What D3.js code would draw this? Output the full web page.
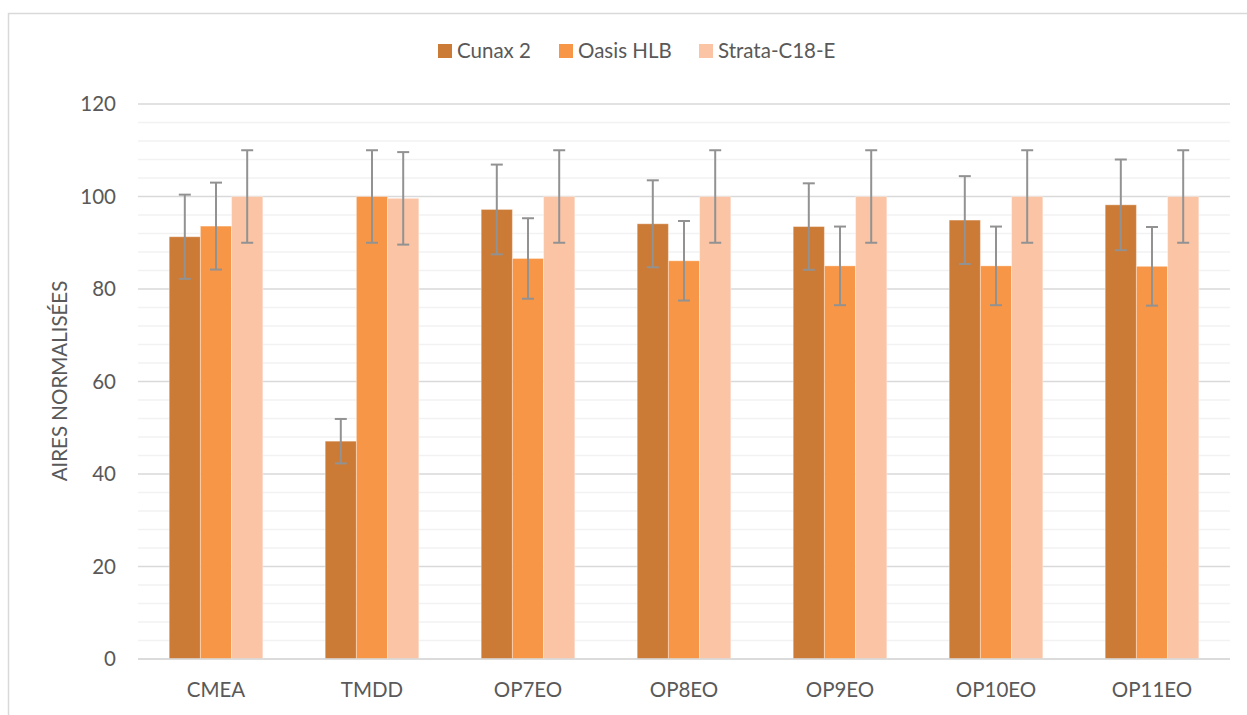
<!DOCTYPE html>
<html><head><meta charset="utf-8">
<script src="https://cdn.jsdelivr.net/npm/d3@7"></script>
<style>body{margin:0;background:#fff}svg{display:block}text{font-family:Lato,"Open Sans",sans-serif;fill:#595959}</style>
</head><body><svg id="c" width="1247" height="715"></svg>
<script>
const categories = ["CMEA","TMDD","OP7EO","OP8EO","OP9EO","OP10EO","OP11EO"];
const seriesNames = ["Cunax 2","Oasis HLB","Strata-C18-E"];
const seriesColors = ["#CC7B37","#F79646","#FAC4A5"];
const cunax = [91.3,47.1,97.2,94.1,93.5,94.9,98.2];
const cunaxErr = [9.1,4.8,9.7,9.4,9.35,9.5,9.8];
const oasis = [93.6,100,86.6,86.1,85.0,85.0,84.9];
const oasisErr = [9.4,10,8.7,8.6,8.5,8.5,8.5];
const strata = [100,99.6,100,100,100,100,100];
const strataErr = [10,10,10,10,10,10,10];
const yTicks = [0,20,40,60,80,100,120];
const yTitle = "AIRES NORMALISÉES";

const values = [cunax, oasis, strata];
const errs = [cunaxErr, oasisErr, strataErr];
const FS = 20.5;

const svg = d3.select("#c");
const L=138,R=1230,T=104,B=659;
svg.append("rect").attr("x",8.5).attr("y",13.5).attr("width",1250).attr("height",720)
  .attr("fill","none").attr("stroke","#d9d9d9").attr("stroke-width",1.5);

const x0 = d3.scaleBand().domain(categories).range([L,R]).paddingInner(0.4).paddingOuter(0.2);
const x1 = d3.scaleBand().domain(seriesNames).range([0,x0.bandwidth()]);
const y = d3.scaleLinear().domain([0,120]).range([B,T]);

// minor grid
svg.append("g").selectAll("line").data(d3.range(4,120,4).filter(v=>v%20!==0)).join("line")
  .attr("x1",L).attr("x2",R).attr("y1",d=>y(d)).attr("y2",d=>y(d))
  .attr("stroke","#f2f2f2").attr("stroke-width",1.5);
// major grid
svg.append("g").selectAll("line").data(yTicks).join("line")
  .attr("x1",L).attr("x2",R).attr("y1",d=>y(d)).attr("y2",d=>y(d))
  .attr("stroke","#d9d9d9").attr("stroke-width",1.5);

const yAxis = svg.append("g").attr("transform",`translate(${L},0)`)
  .call(d3.axisLeft(y).tickValues(yTicks).tickSize(0).tickPadding(22));
yAxis.select(".domain").remove();
yAxis.selectAll("text").attr("font-size",FS).style("fill","#595959").style("font-family","Lato,'Open Sans',sans-serif");

const xAxis = svg.append("g").attr("transform",`translate(0,${B})`)
  .call(d3.axisBottom(x0).tickSize(0).tickPadding(23));
xAxis.select(".domain").remove();
xAxis.selectAll("text").attr("font-size",FS).style("fill","#595959").style("font-family","Lato,'Open Sans',sans-serif");

// bars
seriesNames.forEach((s,si)=>{
  const g = svg.append("g");
  g.selectAll("rect").data(categories).join("rect")
    .attr("x",c=>x0(c)+x1(s)).attr("width",x1.bandwidth())
    .attr("y",(c,i)=>y(values[si][i])).attr("height",(c,i)=>B-y(values[si][i]))
    .attr("fill",seriesColors[si]).attr("stroke","#ffffff").attr("stroke-opacity",0.35).attr("stroke-width",1);
});
// error bars
seriesNames.forEach((s,si)=>{
  const g = svg.append("g").attr("stroke","#929292").attr("stroke-width",2);
  categories.forEach((c,i)=>{
    const cx = x0(c)+x1(s)+x1.bandwidth()/2;
    const v = values[si][i], e = errs[si][i];
    g.append("line").attr("x1",cx).attr("x2",cx).attr("y1",y(v+e)).attr("y2",y(v-e));
    g.append("line").attr("x1",cx-6).attr("x2",cx+6).attr("y1",y(v+e)).attr("y2",y(v+e));
    g.append("line").attr("x1",cx-6).attr("x2",cx+6).attr("y1",y(v-e)).attr("y2",y(v-e));
  });
});
// baseline
svg.append("line").attr("x1",L).attr("x2",R).attr("y1",B).attr("y2",B).attr("stroke","#d9d9d9").attr("stroke-width",1.5);

// y title
svg.append("text").attr("transform","translate(67,381) rotate(-90)").attr("text-anchor","middle")
  .attr("font-size",FS).text(yTitle);

// legend
const legX = [438,559,699];
seriesNames.forEach((s,i)=>{
  svg.append("rect").attr("x",legX[i]).attr("y",44).attr("width",14).attr("height",14).attr("fill",seriesColors[i]);
  svg.append("text").attr("x",legX[i]+19).attr("y",58).attr("font-size",FS).text(s);
});
</script></body></html>
